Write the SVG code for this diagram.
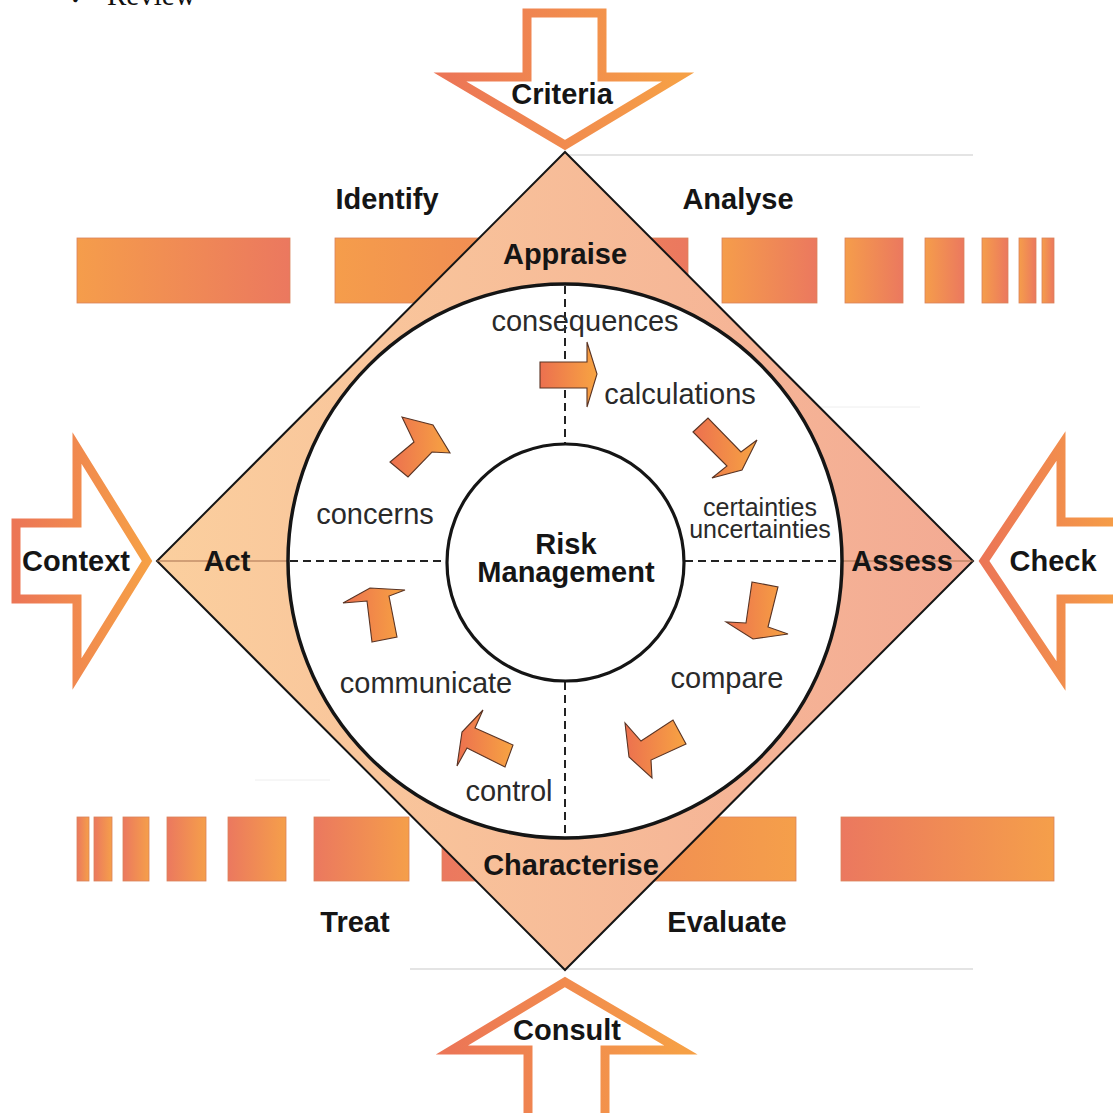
<svg xmlns="http://www.w3.org/2000/svg" width="1113" height="1113" viewBox="0 0 1113 1113">
  <defs>
    <linearGradient id="barA" x1="0" y1="0" x2="1" y2="0">
      <stop offset="0" stop-color="#f59d4b"/>
      <stop offset="1" stop-color="#eb785f"/>
    </linearGradient>
    <linearGradient id="barB" x1="0" y1="0" x2="1" y2="0">
      <stop offset="0" stop-color="#eb785f"/>
      <stop offset="1" stop-color="#f59f4a"/>
    </linearGradient>
    <linearGradient id="diamondFill" gradientUnits="userSpaceOnUse" x1="157" y1="0" x2="973" y2="0">
      <stop offset="0" stop-color="#fbcf9e"/>
      <stop offset="1" stop-color="#f3aa93"/>
    </linearGradient>
    <linearGradient id="bigStroke" x1="0" y1="0" x2="1" y2="0">
      <stop offset="0" stop-color="#ec7656"/>
      <stop offset="1" stop-color="#f6a046"/>
    </linearGradient>
    <linearGradient id="smallFill" x1="0" y1="0" x2="1" y2="0">
      <stop offset="0" stop-color="#ec704f"/>
      <stop offset="1" stop-color="#f7a442"/>
    </linearGradient>
    <style>
      .bar { stroke: #d9825a; stroke-width: 0.8; }
      .big { fill: #ffffff; stroke: url(#bigStroke); stroke-width: 9; stroke-linejoin: miter; stroke-miterlimit: 10; }
      .small { fill: url(#smallFill); stroke: #5a3424; stroke-width: 1.1; stroke-linejoin: miter; }
      .dash { stroke: #222; stroke-width: 2; stroke-dasharray: 8 5; fill: none; }
      .guide { stroke: #c9c9c9; stroke-width: 1.2; }
      .bold { font-family: "Liberation Sans", Arial, sans-serif; font-weight: bold; font-size: 29px; fill: #151515; text-anchor: middle; }
      .reg { font-family: "Liberation Sans", Arial, sans-serif; font-size: 29px; fill: #2a2a2a; text-anchor: middle; }
      .small-t { font-family: "Liberation Sans", Arial, sans-serif; font-size: 25px; fill: #2a2a2a; text-anchor: middle; }
    </style>
  </defs>

  <rect width="1113" height="1113" fill="#ffffff"/>

  <!-- heading line, running off the top edge -->
  <text x="68" y="5" font-family="'Liberation Serif', serif" font-size="29" fill="#111">✓</text>
  <text x="107" y="5" font-family="'Liberation Serif', serif" font-size="29" fill="#111">Review</text>

  <!-- faint guide lines -->
  <g id="guides">
    <line class="guide" x1="565" y1="155" x2="973" y2="155"/>
    <line class="guide" x1="410" y1="969" x2="973" y2="969"/>
    <line x1="780" y1="407" x2="920" y2="407" stroke="#eeeeee" stroke-width="1"/>
    <line x1="255" y1="780" x2="330" y2="780" stroke="#eeeeee" stroke-width="1"/>
  </g>

  <!-- top row of bars -->
  <g id="bars-top">
    <rect class="bar" x="77" y="238" width="213" height="65" fill="url(#barA)"/>
    <rect class="bar" x="335" y="238" width="353" height="65" fill="url(#barA)"/>
    <rect class="bar" x="722" y="238" width="95" height="65" fill="url(#barA)"/>
    <rect class="bar" x="845" y="238" width="58" height="65" fill="url(#barA)"/>
    <rect class="bar" x="925" y="238" width="39" height="65" fill="url(#barA)"/>
    <rect class="bar" x="982" y="238" width="26" height="65" fill="url(#barA)"/>
    <rect class="bar" x="1019" y="238" width="17" height="65" fill="url(#barA)"/>
    <rect class="bar" x="1042" y="238" width="12" height="65" fill="url(#barA)"/>
  </g>

  <!-- bottom row of bars -->
  <g id="bars-bottom">
    <rect class="bar" x="77" y="817" width="12" height="64" fill="url(#barB)"/>
    <rect class="bar" x="94" y="817" width="18" height="64" fill="url(#barB)"/>
    <rect class="bar" x="123" y="817" width="26" height="64" fill="url(#barB)"/>
    <rect class="bar" x="167" y="817" width="39" height="64" fill="url(#barB)"/>
    <rect class="bar" x="228" y="817" width="58" height="64" fill="url(#barB)"/>
    <rect class="bar" x="314" y="817" width="95" height="64" fill="url(#barB)"/>
    <rect class="bar" x="442" y="817" width="354" height="64" fill="url(#barB)"/>
    <rect class="bar" x="841" y="817" width="213" height="64" fill="url(#barB)"/>
  </g>

  <!-- diamond with the four stage corners -->
  <g id="diamond">
    <polygon points="565,152 973,561 565,970 157,561" fill="url(#diamondFill)" stroke="#151515" stroke-width="2"/>
    <line x1="157" y1="561" x2="290" y2="561" stroke="#a8714f" stroke-width="1.2"/>
    <line x1="840" y1="561" x2="973" y2="561" stroke="#a8714f" stroke-width="1.2"/>
  </g>

  <!-- outer ring -->
  <g id="ring">
    <circle cx="565" cy="561" r="277" fill="#ffffff" stroke="#151515" stroke-width="3.5"/>
  </g>

  <!-- quadrant dividers -->
  <g id="dividers">
    <line class="dash" x1="565" y1="286" x2="565" y2="443"/>
    <line class="dash" x1="565" y1="682" x2="565" y2="836"/>
    <line class="dash" x1="290" y1="561" x2="446" y2="561"/>
    <line class="dash" x1="685" y1="561" x2="841" y2="561"/>
  </g>

  <!-- centre node -->
  <g id="risk-management">
    <circle cx="565.5" cy="562.5" r="118.5" fill="#ffffff" stroke="#151515" stroke-width="3.2"/>
    <text class="bold" x="566" y="554">Risk</text>
    <text class="bold" x="566" y="582">Management</text>
  </g>

  <!-- cycle arrows inside the ring -->
  <g id="connectors">
    <polygon class="small" points="540,362 587,362 587,342 597,374 587,407 587,388 540,388"/>
    <polygon class="small" points="693,432 708,418 741,452 757,440 742,470 712,478 727,466"/>
    <polygon class="small" points="752,582 778,587 768,627 788,634 753,639 726,622 746,623"/>
    <polygon class="small" points="673,720 686,744 651,760 652,778 629,757 625,723 641,741"/>
    <polygon class="small" points="513,745 505,767 467,748 457,766 462,732 483,710 475,728"/>
    <polygon class="small" points="372,642 397,637 389,596 405,590 370,588 343,603 367,601"/>
    <polygon class="small" points="390,462 408,477 432,452 450,453 433,425 402,417 414,442"/>
  </g>

  <!-- stage labels -->
  <g id="appraise"><text class="bold" x="565" y="264">Appraise</text></g>
  <g id="act"><text class="bold" x="227" y="571">Act</text></g>
  <g id="assess"><text class="bold" x="902" y="571">Assess</text></g>
  <g id="characterise"><text class="bold" x="571" y="875">Characterise</text></g>

  <g id="identify"><text class="bold" x="387" y="209">Identify</text></g>
  <g id="analyse"><text class="bold" x="738" y="209">Analyse</text></g>
  <g id="treat"><text class="bold" x="355" y="932">Treat</text></g>
  <g id="evaluate"><text class="bold" x="727" y="932">Evaluate</text></g>

  <!-- cycle steps -->
  <g id="consequences"><text class="reg" x="585" y="331">consequences</text></g>
  <g id="calculations"><text class="reg" x="680" y="404">calculations</text></g>
  <g id="certainties">
    <text class="small-t" x="760" y="516">certainties</text>
    <text class="small-t" x="760" y="538">uncertainties</text>
  </g>
  <g id="compare"><text class="reg" x="727" y="688">compare</text></g>
  <g id="control"><text class="reg" x="509" y="801">control</text></g>
  <g id="communicate"><text class="reg" x="426" y="693">communicate</text></g>
  <g id="concerns"><text class="reg" x="375" y="524">concerns</text></g>

  <!-- input arrows -->
  <g id="criteria">
    <path class="big" d="M527,13 H602 V77 H678 L565,145 L450,77 H527 Z"/>
    <text class="bold" x="562" y="104">Criteria</text>
  </g>
  <g id="context">
    <path class="big" d="M16,523 H77 V448 L147,561 L77,674 V599 H16 Z"/>
    <text class="bold" x="76" y="571">Context</text>
  </g>
  <g id="check">
    <path class="big" d="M1125,522 H1061 V446 L984,561 L1061,676 V599 H1125"/>
    <text class="bold" x="1053" y="571">Check</text>
  </g>
  <g id="consult">
    <path class="big" d="M528,1125 V1050 H452 L565,982 L681,1050 H605 V1125"/>
    <text class="bold" x="567" y="1040">Consult</text>
  </g>
</svg>
